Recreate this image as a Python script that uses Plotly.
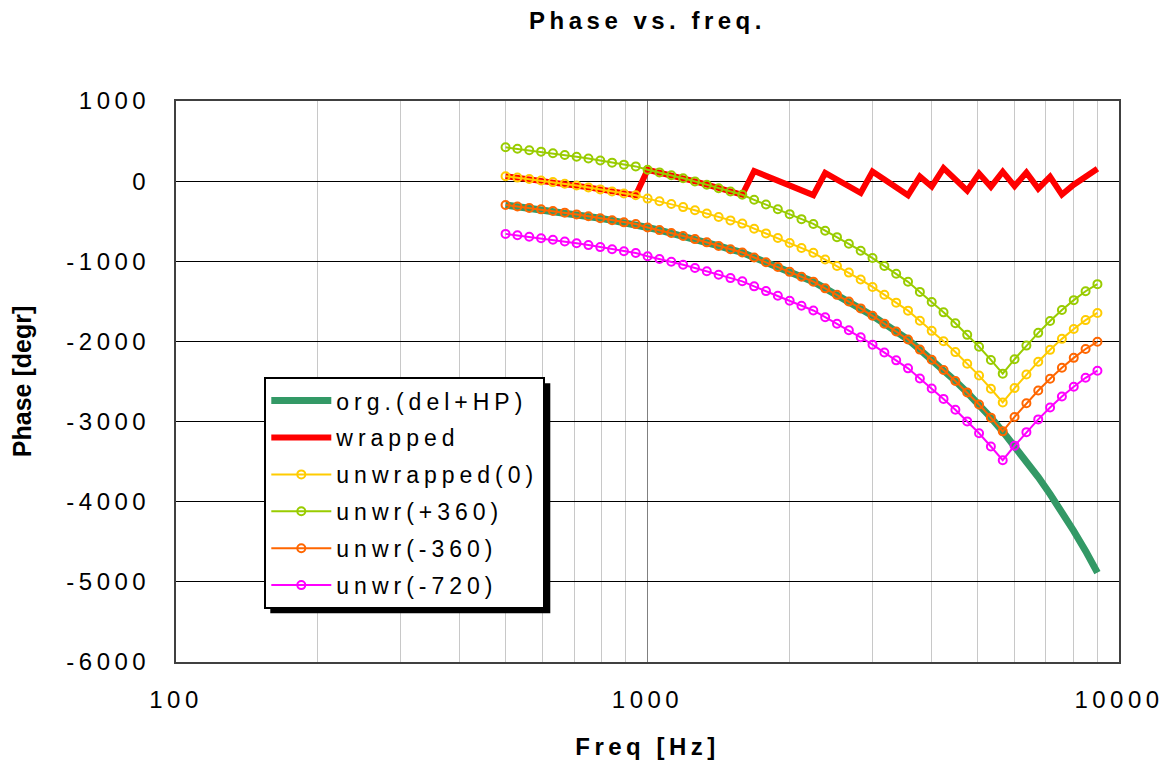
import plotly.graph_objects as go

# ---------------- data ----------------
freq = [500.0, 529.8, 561.3, 594.7, 630.1, 667.6, 707.3, 749.4, 794.0, 841.2,
        891.3, 944.3, 1000.5, 1060.1, 1123.2, 1190.0, 1260.8, 1335.9, 1415.4, 1499.6,
        1588.8, 1683.4, 1783.6, 1889.7, 2002.2, 2121.3, 2247.6, 2381.3, 2523.0, 2673.2,
        2832.3, 3000.8, 3179.4, 3368.6, 3569.1, 3781.5, 4006.5, 4244.9, 4497.5, 4765.2,
        5048.8, 5349.2, 5667.6, 6004.8, 6362.2, 6740.8, 7142.0, 7567.0, 8017.4, 8494.5,
        9000.0]

org = [-298, -316, -334, -352, -372, -393, -415, -438, -463, -489,
       -514, -536, -578, -611, -646, -684, -723, -764, -808, -850,
       -890, -953, -1012, -1070, -1132, -1194, -1254, -1338, -1419, -1501,
       -1588, -1680, -1778, -1876, -1976, -2102, -2228, -2357, -2493, -2638,
       -2786, -2951, -3122, -3302, -3492, -3693, -3905, -4128, -4365, -4614,
       -4885]

wrapped = [62, 44, 26, 8, -12, -33, -55, -78, -103, -129,
           -154, -176, 142, 109, 74, 36, -3, -44, -88, -130,
           -170, 127, 68, 10, -52, -114, -174, 102, 21, -61,
           -148, 120, 22, -76, -176, 58, -68, 163, 27, -118,
           94, -71, 118, -62, 108, -93, 55, -168, -45, 66,
           155]

unwrapped0 = [62, 44, 26, 8, -12, -33, -55, -78, -103, -129,
              -154, -176, -218, -251, -286, -324, -363, -404, -448, -490,
              -530, -593, -652, -710, -772, -834, -894, -978, -1059, -1141,
              -1228, -1320, -1418, -1516, -1616, -1742, -1868, -1997, -2133, -2278,
              -2426, -2591, -2762, -2582, -2412, -2253, -2105, -1968, -1845, -1734,
              -1645]

unwr_p360 = [422, 404, 386, 368, 348, 327, 305, 282, 257, 231,
             206, 184, 142, 109, 74, 36, -3, -44, -88, -130,
             -170, -233, -292, -350, -412, -474, -534, -618, -699, -781,
             -868, -960, -1058, -1156, -1256, -1382, -1508, -1637, -1773, -1918,
             -2066, -2231, -2402, -2222, -2052, -1893, -1745, -1608, -1485, -1374,
             -1285]

unwr_m360 = [-298, -316, -334, -352, -372, -393, -415, -438, -463, -489,
             -514, -536, -578, -611, -646, -684, -723, -764, -808, -850,
             -890, -953, -1012, -1070, -1132, -1194, -1254, -1338, -1419, -1501,
             -1588, -1680, -1778, -1876, -1976, -2102, -2228, -2357, -2493, -2638,
             -2786, -2951, -3122, -2942, -2772, -2613, -2465, -2328, -2205, -2094,
             -2005]

unwr_m720 = [-658, -676, -694, -712, -732, -753, -775, -798, -823, -849,
             -874, -896, -938, -971, -1006, -1044, -1083, -1124, -1168, -1210,
             -1250, -1313, -1372, -1430, -1492, -1554, -1614, -1698, -1779, -1861,
             -1948, -2040, -2138, -2236, -2336, -2462, -2588, -2717, -2853, -2998,
             -3146, -3311, -3482, -3302, -3132, -2973, -2825, -2688, -2565, -2454,
             -2365]

series_names = ["org.(del+HP)", "wrapped", "unwrapped(0)", "unwr(+360)", "unwr(-360)", "unwr(-720)"]

x_tickvals = [100, 1000, 10000]
x_ticktext = ["100", "1000", "10000"]
x_minor = [200, 300, 400, 500, 600, 700, 800, 900,
           2000, 3000, 4000, 5000, 6000, 7000, 8000, 9000]
y_tickvals = [1000, 0, -1000, -2000, -3000, -4000, -5000, -6000]
y_ticktext = ["1000", "0", "-1000", "-2000", "-3000", "-4000", "-5000", "-6000"]


def sp(t, s=4.5):
    return f'<span style="letter-spacing:{s}px">{t}</span>'


FONT = "Liberation Sans, Arial, sans-serif"

fig = go.Figure()

# thick lines
fig.add_trace(go.Scatter(x=freq, y=org, mode="lines", name=sp(series_names[0], 5),
                         line=dict(color="#339966", width=7), legendgroup="g1"))
fig.add_trace(go.Scatter(x=freq, y=wrapped, mode="lines", name=sp(series_names[1], 5),
                         line=dict(color="#FF0000", width=6), legendgroup="g2"))

marker_series = [
    (unwrapped0, "#FFCC00", series_names[2], "g3"),
    (unwr_p360, "#99CC00", series_names[3], "g4"),
    (unwr_m360, "#FF6600", series_names[4], "g5"),
    (unwr_m720, "#FF00FF", series_names[5], "g6"),
]
for ys, col, nm, grp in marker_series:
    fig.add_trace(go.Scatter(
        x=freq, y=ys, mode="lines+markers", name=sp(nm, 5), legendgroup=grp,
        line=dict(color=col, width=2),
        marker=dict(symbol="circle-open", size=8, color=col, line=dict(color=col, width=2)),
    ))

plot_l, plot_r, plot_t, plot_b = 175.7, 1118.7, 101.0, 661.7
pw, ph = plot_r - plot_l, plot_b - plot_t


def px_x(p):
    return (p - plot_l) / pw


def px_y(p):
    return (plot_b - p) / ph


# legend drop shadow
fig.add_shape(type="rect", xref="paper", yref="paper",
              x0=px_x(270), x1=px_x(550), y0=px_y(613), y1=px_y(383),
              fillcolor="black", line=dict(width=0), layer="above")

fig.update_layout(
    width=1171, height=767,
    margin=dict(l=176, r=52, t=101, b=105),
    paper_bgcolor="white", plot_bgcolor="white",
    font=dict(family=FONT, size=24, color="black"),
    title=dict(text="<b>" + sp("Phase vs. freq.") + "</b>", x=0.5, xref="paper",
               xanchor="center", y=1 - 21 / 767, yref="container", yanchor="middle",
               font=dict(family=FONT, size=24, color="black")),
    showlegend=True,
    legend=dict(x=px_x(264), y=px_y(377), xanchor="left", yanchor="top",
                bgcolor="white", bordercolor="black", borderwidth=2,
                font=dict(family=FONT, size=23, color="black"),
                itemwidth=60, traceorder="grouped", tracegroupgap=4),
)

fig.update_xaxes(
    type="log", range=[2, 4],
    tickmode="array", tickvals=x_tickvals, ticktext=[sp(t) for t in x_ticktext],
    ticks="", ticklabelstandoff=15,
    showgrid=True, gridcolor="#808080", gridwidth=1,
    minor=dict(tickmode="array", tickvals=x_minor, showgrid=True, gridcolor="#c8c8c8", gridwidth=1, ticks=""),
    showline=True, linecolor="#404040", linewidth=2, mirror=True, zeroline=False,
    title=dict(text="<b>" + sp("Freq [Hz]") + "</b>", standoff=26,
               font=dict(family=FONT, size=24, color="black")),
    automargin=False,
)
fig.update_yaxes(
    range=[-6000, 1000],
    tickmode="array", tickvals=y_tickvals, ticktext=[sp(t) for t in y_ticktext],
    ticks="", ticklabelstandoff=19,
    showgrid=True, gridcolor="black", gridwidth=1, zeroline=False,
    showline=True, linecolor="#404040", linewidth=2, mirror=True,
    title=dict(text="<b>Phase [degr]</b>", standoff=28,
               font=dict(family=FONT, size=25, color="black")),
    automargin=False,
)

fig.write_html("out.html")
